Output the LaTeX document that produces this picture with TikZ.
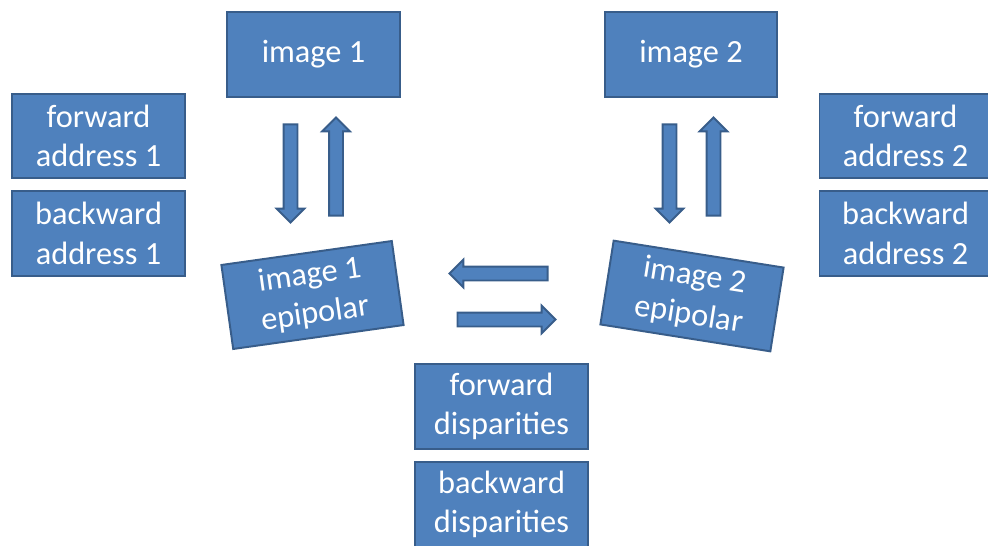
\documentclass[tikz,border=0pt]{standalone}
\usepackage{fontspec}
\setmainfont{Carlito}
\usetikzlibrary{shapes.arrows}
\definecolor{boxfill}{HTML}{4F81BD}
\definecolor{boxline}{HTML}{385D8A}
\begin{document}
\begin{tikzpicture}[x=0.025cm,y=-0.025cm]
\tikzstyle{box}=[draw=boxline,fill=boxfill,line width=1.4pt,minimum width=4.3cm,minimum height=2.12cm,
  inner sep=0pt,text=white,align=center,font=\fontsize{23}{28}\selectfont]
\tikzstyle{blockarrow}=[single arrow,draw=boxline,fill=boxfill,line width=1.4pt,minimum height=2.45cm,
  inner sep=0.15cm,single arrow head extend=0.17cm]
\useasboundingbox (0,0) rectangle (988,546);

\path (313.5,54.5) node[box](img1){image 1} (691,54.5) node[box](img2){image 2};
\path (98.5,136) node[box](fwd1){forward\\address 1} (98.5,233.5) node[box](bwd1){backward\\address 1};
\path (905.5,136) node[box](fwd2){forward\\address 2} (905.5,233.5) node[box](bwd2){backward\\address 2};
\path (312.5,295) node[box,rotate=8](epi1){image 1\\epipolar} (692,296) node[box,rotate=-9](epi2){image 2\\epipolar};
\path (501.5,406.5) node[box](fdisp){forward\\disparities} (501.5,504.5) node[box](bdisp){backward\\disparities};

\path (290.5,170) node[blockarrow,rotate=-90](a1){} (336,170) node[blockarrow,rotate=90](a2){};
\path (669.5,170) node[blockarrow,rotate=-90](a3){} (713.5,170) node[blockarrow,rotate=90](a4){};
\path (502,273.5) node[blockarrow,rotate=180](a5){} (503,319.5) node[blockarrow](a6){};
\end{tikzpicture}
\end{document}
